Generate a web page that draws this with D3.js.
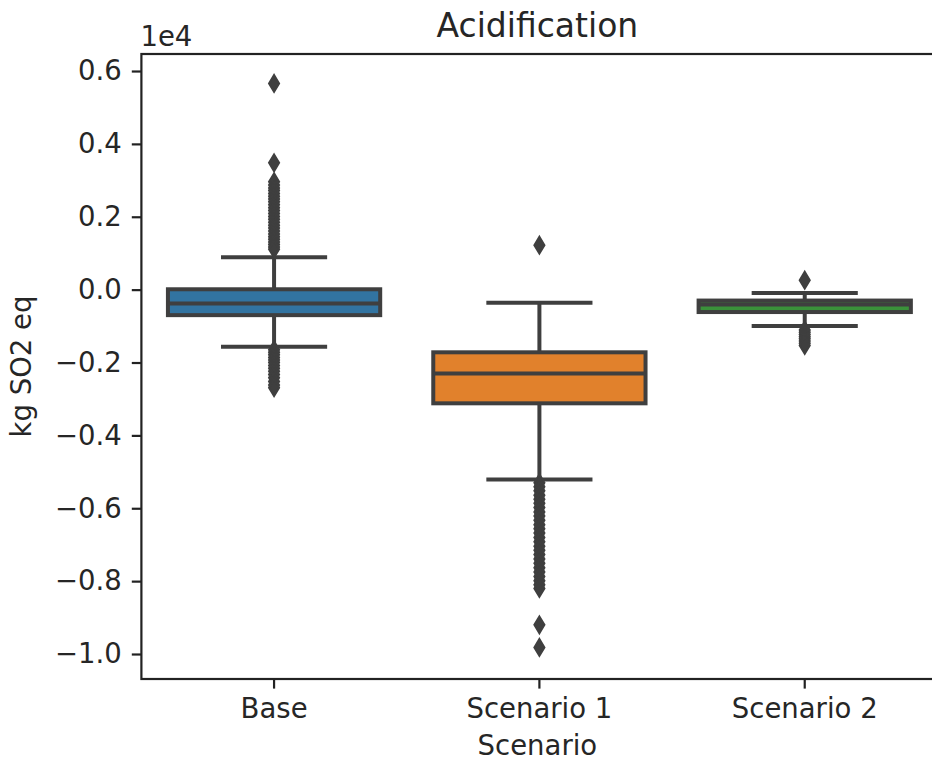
<!DOCTYPE html>
<html>
<head>
<meta charset="utf-8">
<script src="https://cdn.jsdelivr.net/npm/d3@7"></script>
<style>
  html, body { margin: 0; padding: 0; background: #fff; }
  svg { display: block; }
  text { font-family: "DejaVu Sans", sans-serif; fill: #262626; }
</style>
</head>
<body>
<div id="chart"></div>
<script>
// Acidification impact per scenario, in kg SO2 eq
const scenarios = ["Base", "Scenario 1", "Scenario 2"];
const boxColors = ["#3274a1", "#e1812c", "#3a923a"];

// five-number summaries: lower whisker, Q1, median, Q3, upper whisker
const whiskerLow  = [-1570, -5210, -1000];
const quartile1   = [-700,  -3120, -615];
const medians     = [-380,  -2300, -410];
const quartile3   = [10,    -1720, -300];
const whiskerHigh = [890,   -360,  -90];

// values beyond the whiskers
const outliersBase = [5660, 3480, 2960, 2870, 2790, 2720, 2640, 2560, 2490, 2410,
  2330, 2250, 2170, 2090, 2010, 1930, 1850, 1770, 1690, 1610, 1530, 1450, 1380,
  1310, 1240, 1170, 1110,
  -1650, -1720, -1790, -1860, -1930, -2000, -2080, -2160, -2240, -2330, -2420,
  -2520, -2620, -2690];
const outliersS1 = [1220,
  -5300, -5410, -5520, -5640, -5750, -5860, -5980, -6100, -6210, -6330, -6450,
  -6560, -6680, -6800, -6920, -7040, -7150, -7270, -7390, -7510, -7630, -7750,
  -7870, -7990, -8100, -8200, -9200, -9820];
const outliersS2 = [260,
  -1110, -1170, -1230, -1290, -1350, -1410, -1470, -1530];

const yTicks = [-10000, -8000, -6000, -4000, -2000, 0, 2000, 4000, 6000];
const yDomain = [-10686, 6467];

const W = 932, H = 762;
const plot = { left: 141.4, right: 937.4, top: 54, bottom: 679 };
const ink = "#3f3f3f";
const tickFont = "27.5px";

const svg = d3.select("#chart").append("svg")
  .attr("width", W).attr("height", H);

const x = d3.scaleBand().domain(scenarios)
  .range([plot.left, plot.right]).padding(0);
const y = d3.scaleLinear().domain(yDomain).range([plot.bottom, plot.top]);

const boxW = x.bandwidth() * 0.8;
const capW = boxW * 0.5;

const stats = scenarios.map((s, i) => ({
  name: s, color: boxColors[i],
  lo: whiskerLow[i], q1: quartile1[i], med: medians[i], q3: quartile3[i], hi: whiskerHigh[i],
  out: [outliersBase, outliersS1, outliersS2][i]
}));

const g = svg.append("g");
const groups = g.selectAll("g.box").data(stats).join("g").attr("class", "box")
  .attr("transform", d => `translate(${x(d.name) + x.bandwidth() / 2},0)`);

const lw = 4;
// whisker stems
groups.append("line").attr("x1", 0).attr("x2", 0)
  .attr("y1", d => y(d.q3)).attr("y2", d => y(d.hi))
  .attr("stroke", ink).attr("stroke-width", lw);
groups.append("line").attr("x1", 0).attr("x2", 0)
  .attr("y1", d => y(d.q1)).attr("y2", d => y(d.lo))
  .attr("stroke", ink).attr("stroke-width", lw);
// caps
groups.selectAll("line.cap").data(d => [d.lo, d.hi]).join("line").attr("class", "cap")
  .attr("x1", -capW / 2).attr("x2", capW / 2)
  .attr("y1", v => y(v)).attr("y2", v => y(v))
  .attr("stroke", ink).attr("stroke-width", lw);
// boxes
groups.append("rect")
  .attr("x", -boxW / 2).attr("width", boxW)
  .attr("y", d => y(d.q3)).attr("height", d => y(d.q1) - y(d.q3))
  .attr("fill", d => d.color).attr("stroke", ink).attr("stroke-width", lw);
// medians
groups.append("line").attr("x1", -boxW / 2).attr("x2", boxW / 2)
  .attr("y1", d => y(d.med)).attr("y2", d => y(d.med))
  .attr("stroke", ink).attr("stroke-width", lw);
// fliers as thin diamonds
const diamond = d3.symbol().type(d3.symbolDiamond2).size(180)();
groups.selectAll("path.flier").data(d => d.out).join("path").attr("class", "flier")
  .attr("d", diamond)
  .attr("transform", v => `translate(0,${y(v)}) scale(0.6,1)`)
  .attr("fill", ink).attr("stroke", ink).attr("stroke-width", 2)
  .attr("vector-effect", "non-scaling-stroke");

// axes
const yAxis = d3.axisLeft(y).tickValues(yTicks)
  .tickFormat(d => d3.format(".1f")(d / 1e4)).tickSizeOuter(0).tickSize(9.6).tickPadding(10);
const ya = svg.append("g").attr("transform", `translate(${plot.left},0)`).call(yAxis);
ya.select(".domain").remove();
ya.selectAll(".tick line").attr("stroke", "#222").attr("stroke-width", 2.2);
ya.selectAll(".tick text").style("font-size", tickFont).attr("fill", "#262626");

const xAxis = d3.axisBottom(x).tickSize(9.6).tickSizeOuter(0).tickPadding(9.6);
const xa = svg.append("g").attr("transform", `translate(0,${plot.bottom})`).call(xAxis);
xa.select(".domain").remove();
xa.selectAll(".tick line").attr("stroke", "#222").attr("stroke-width", 2.2);
xa.selectAll(".tick text").style("font-size", tickFont).attr("fill", "#262626");

// frame
svg.append("rect")
  .attr("x", plot.left).attr("y", plot.top)
  .attr("width", plot.right - plot.left).attr("height", plot.bottom - plot.top)
  .attr("fill", "none").attr("stroke", "#222").attr("stroke-width", 2.2);

// labels
svg.append("text").attr("x", (plot.left + plot.right) / 2 - 2).attr("y", 37)
  .attr("text-anchor", "middle").style("font-size", "33px").text("Acidification");
svg.append("text").attr("x", plot.left - 1).attr("y", 46)
  .style("font-size", tickFont).text("1e4");
svg.append("text").attr("transform", `translate(31,${(plot.top + plot.bottom) / 2}) rotate(-90)`)
  .attr("text-anchor", "middle").style("font-size", tickFont).text("kg SO2 eq");
svg.append("text").attr("x", (plot.left + plot.right) / 2 - 2).attr("y", 755)
  .attr("text-anchor", "middle").style("font-size", tickFont).text("Scenario");
</script>
</body>
</html>
